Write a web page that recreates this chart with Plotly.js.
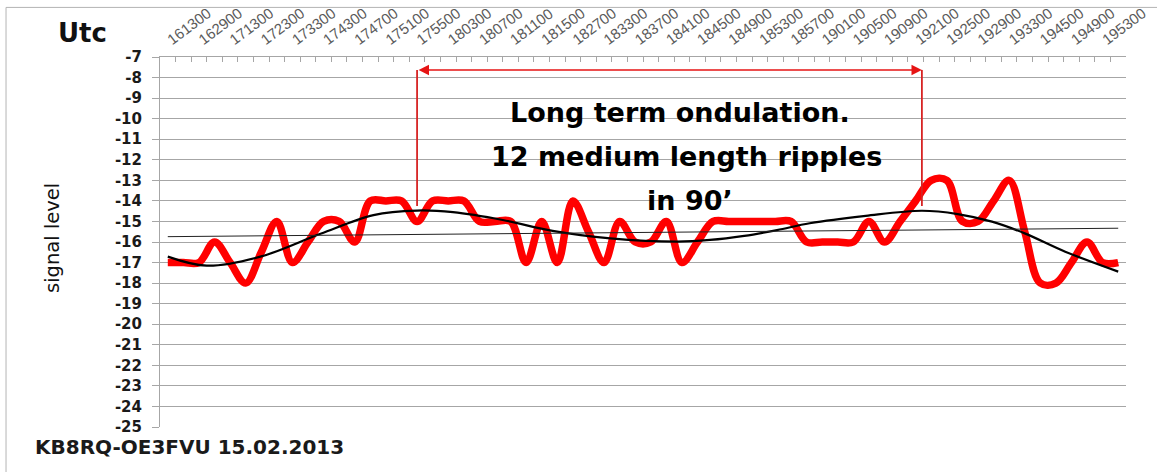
<!DOCTYPE html>
<html>
<head>
<meta charset="utf-8">
<script src="https://cdn.plot.ly/plotly-3.0.1.min.js"></script>
<style>
  html, body { margin: 0; padding: 0; background: #fff; }
  #chart { width: 1157px; height: 472px; }
</style>
</head>
<body>
<div id="chart"></div>
<script>
// Tick labels (UTC hhmmss), shown on every second category
const timeLabels = ['161300','162900','171300','172300','173300','174300','174700','175100','175500','180300','180700','181100','181500','182700','183300','183700','184100','184500','184900','185300','185700','190100','190500','190900','192100','192500','192900','193300','194500','194900','195300'];

// Signal level readings (62 samples)
const signalLevel = [-17,-17,-17,-16,-17,-18,-16.5,-15,-17,-16,
                     -15,-15,-16,-14,-14,-14,-15,-14,-14,-14,
                     -15,-15,-15,-17,-15,-17,-14,-15.5,-17,-15,
                     -16,-16,-15,-17,-16,-15,-15,-15,-15,-15,
                     -15,-16,-16,-16,-16,-15,-16,-15,-14,-13,
                     -13,-15,-15,-14,-13,-15.5,-18,-18,-17,-16,
                     -17,-17];

// Long-term trend curve (sampled positions / values)
const trendX = [0, 2.5, 6, 9.8, 13.2, 16, 18.3, 21.5, 24.7, 28.4, 32.7, 34.8, 37, 39.1, 41.2, 44.8, 48.4, 50.7, 52.9, 55, 57.6, 61];
const trendY = [-16.71, -17.15, -16.7, -15.6, -14.69, -14.47, -14.55, -14.93, -15.46, -15.82, -15.98, -15.9, -15.7, -15.42, -15.09, -14.73, -14.48, -14.64, -15.01, -15.58, -16.47, -17.44];

// Linear trend line
const linX = [0, 61];
const linY = [-15.74, -15.33];

// Y axis levels
const yMin = -25, yMax = -7;

const sampleIdx = signalLevel.map((_, i) => i);
const labelIdx = timeLabels.map((_, i) => i * 2);
const boundaries = [];
for (let i = 0; i <= signalLevel.length; i++) boundaries.push(i - 0.5);
const yTicks = [];
for (let v = yMin; v <= yMax; v++) yTicks.push(v);
const yTickText = yTicks.map(v => String(v));

const xRange = [-0.5, signalLevel.length - 0.5];

const traces = [
  {
    x: sampleIdx, y: signalLevel, type: 'scatter', mode: 'lines',
    line: { color: 'rgb(255,0,0)', width: 7.5, shape: 'spline', smoothing: 1 },
    hoverinfo: 'skip'
  },
  {
    x: trendX, y: trendY, type: 'scatter', mode: 'lines',
    line: { color: '#000', width: 2.2, shape: 'spline', smoothing: 1 },
    hoverinfo: 'skip'
  },
  {
    x: linX, y: linY, type: 'scatter', mode: 'lines', xaxis: 'x2',
    line: { color: '#222', width: 1 },
    hoverinfo: 'skip'
  }
];

const redLine = 'rgb(215,35,35)';
const txtFont = { family: 'DejaVu Sans', size: 27, color: '#000', weight: 'bold' };

const layout = {
  width: 1157, height: 472,
  margin: { l: 160, r: 31, t: 57, b: 45, pad: 0 },
  paper_bgcolor: '#fff', plot_bgcolor: '#fff',
  showlegend: false,
  xaxis: {
    range: xRange, side: 'top', showgrid: false, zeroline: false,
    showline: true, linecolor: '#a6a6a6', linewidth: 1,
    tickmode: 'array', tickvals: labelIdx, ticktext: timeLabels,
    ticks: '', tickangle: -37, ticklabelstandoff: 3,
    tickfont: { family: 'Liberation Sans', size: 15, color: '#5a5a5a' },
    fixedrange: true
  },
  xaxis2: {
    range: xRange, overlaying: 'x', side: 'top', anchor: 'y',
    showgrid: false, zeroline: false, showline: false,
    tickmode: 'array', tickvals: boundaries, showticklabels: false,
    ticks: 'inside', ticklen: 5, tickcolor: '#a6a6a6', tickwidth: 1,
    fixedrange: true
  },
  yaxis: {
    range: [yMin, yMax], tickmode: 'array', tickvals: yTicks, ticktext: yTickText,
    showgrid: true, gridcolor: '#a6a6a6', gridwidth: 1,
    zeroline: false, showline: true, linecolor: '#a6a6a6', linewidth: 1,
    ticks: 'outside', ticklen: 7, tickcolor: '#a6a6a6',
    ticklabelstandoff: 7,
    tickfont: { family: 'DejaVu Sans', size: 15, color: '#1a1a1a', weight: 'bold' },
    fixedrange: true
  },
  shapes: [
    { type: 'rect', xref: 'paper', yref: 'paper', x0: -0.1594, x1: 1.05, y0: -0.2, y1: 1.134,
      line: { color: '#b4b4b4', width: 1 }, layer: 'below' },
    { type: 'line', xref: 'x', yref: 'y', x0: 16, x1: 16, y0: -7.63, y1: -14.25,
      line: { color: redLine, width: 1.8 } },
    { type: 'line', xref: 'x', yref: 'y', x0: 48.4, x1: 48.4, y0: -7.63, y1: -14.25,
      line: { color: redLine, width: 1.8 } }
  ],
  annotations: [
    { x: 48.4, y: -7.63, ax: 16, ay: -7.63, xref: 'x', yref: 'y', axref: 'x', ayref: 'y',
      text: '', showarrow: true, arrowside: 'end+start', arrowhead: 2, arrowsize: 1.3,
      arrowwidth: 1.6, arrowcolor: 'rgb(230,20,20)', standoff: 0, startstandoff: 0 },
    { xref: 'paper', yref: 'paper', x: (680 - 160) / 966, y: (427 - 112) / 370,
      text: 'Long term ondulation.', showarrow: false, font: txtFont, xanchor: 'center', yanchor: 'middle' },
    { xref: 'paper', yref: 'paper', x: (686 - 160) / 966, y: (427 - 156) / 370,
      text: '12 medium length ripples', showarrow: false, font: txtFont, xanchor: 'center', yanchor: 'middle' },
    { xref: 'paper', yref: 'paper', x: (690 - 160) / 966, y: (427 - 200) / 370,
      text: 'in 90’', showarrow: false, font: txtFont, xanchor: 'center', yanchor: 'middle' },
    { xref: 'paper', yref: 'paper', x: (82 - 160) / 966, y: (427 - 33) / 370,
      text: 'Utc', showarrow: false, xanchor: 'center', yanchor: 'middle',
      font: { family: 'DejaVu Sans', size: 26, color: '#111', weight: 'bold' } },
    { xref: 'paper', yref: 'paper', x: (52 - 160) / 966, y: (427 - 238) / 370,
      text: 'signal level', showarrow: false, textangle: -90, xanchor: 'center', yanchor: 'middle',
      font: { family: 'DejaVu Sans', size: 19.5, color: '#111' } },
    { xref: 'paper', yref: 'paper', x: (33 - 160) / 966, y: (427 - 447) / 370,
      text: 'KB8RQ-OE3FVU 15.02.2013', showarrow: false, xanchor: 'left', yanchor: 'middle',
      font: { family: 'DejaVu Sans', size: 20, color: '#1a1a1a', weight: 'bold' } }
  ]
};

Plotly.newPlot('chart', traces, layout, { staticPlot: true, displayModeBar: false });
</script>
</body>
</html>
